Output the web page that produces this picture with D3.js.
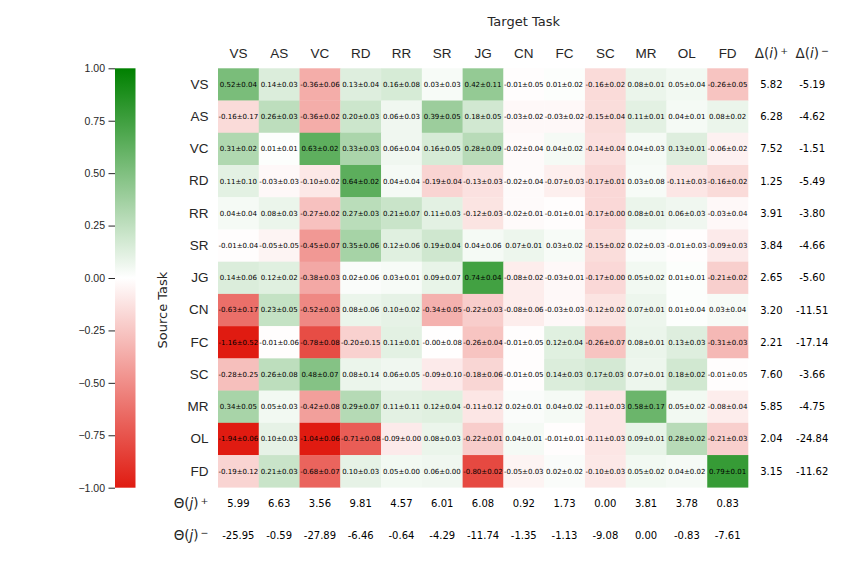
<!DOCTYPE html>
<html>
<head>
<meta charset="utf-8">
<script src="https://cdn.jsdelivr.net/npm/d3@7"></script>
<style>
  body { margin: 0; background: #fff; }
  svg { font-family: "DejaVu Sans", sans-serif; }
  .cell-label { font-size: 7px; fill: #000; }
  .tick-label { font-size: 13.5px; fill: #262626; }
  .side-value { font-size: 10px; fill: #000; }
</style>
</head>
<body>
<svg id="chart"></svg>
<script>
// tasks (rows = source, columns = target)
const colTasks = ['VS', 'AS', 'VC', 'RD', 'RR', 'SR', 'JG', 'CN', 'FC', 'SC', 'MR', 'OL', 'FD'];
const rowTasks = ['VS', 'AS', 'VC', 'RD', 'RR', 'SR', 'JG', 'CN', 'FC', 'SC', 'MR', 'OL', 'FD'];

// mean transfer gain, one row per source task
const meanValues = [
  [0.52, 0.14, -0.36, 0.13, 0.16, 0.03, 0.42, -0.01, 0.01, -0.16, 0.08, 0.05, -0.26],
  [-0.16, 0.26, -0.36, 0.20, 0.06, 0.39, 0.18, -0.03, -0.03, -0.15, 0.11, 0.04, 0.08],
  [0.31, 0.01, 0.63, 0.33, 0.06, 0.16, 0.28, -0.02, 0.04, -0.14, 0.04, 0.13, -0.06],
  [0.11, -0.03, -0.10, 0.64, 0.04, -0.19, -0.13, -0.02, -0.07, -0.17, 0.03, -0.11, -0.16],
  [0.04, 0.08, -0.27, 0.27, 0.21, 0.11, -0.12, -0.02, -0.01, -0.17, 0.08, 0.06, -0.03],
  [-0.01, -0.05, -0.45, 0.35, 0.12, 0.19, 0.04, 0.07, 0.03, -0.15, 0.02, -0.01, -0.09],
  [0.14, 0.12, -0.38, 0.02, 0.03, 0.09, 0.74, -0.08, -0.03, -0.17, 0.05, 0.01, -0.21],
  [-0.63, 0.23, -0.52, 0.08, 0.10, -0.34, -0.22, -0.08, -0.03, -0.12, 0.07, 0.01, 0.03],
  [-1.16, -0.01, -0.78, -0.20, 0.11, -0.004, -0.26, -0.01, 0.12, -0.26, 0.08, 0.13, -0.31],
  [-0.28, 0.26, 0.48, 0.08, 0.06, -0.09, -0.18, -0.01, 0.14, 0.17, 0.07, 0.18, -0.01],
  [0.34, 0.05, -0.42, 0.29, 0.11, 0.12, -0.11, 0.02, 0.04, -0.11, 0.58, 0.05, -0.08],
  [-1.94, 0.10, -1.04, -0.71, -0.09, 0.08, -0.22, 0.04, -0.01, -0.11, 0.09, 0.28, -0.21],
  [-0.19, 0.21, -0.68, 0.10, 0.05, 0.06, -0.80, -0.05, 0.02, -0.10, 0.05, 0.04, 0.79]
];

// standard deviations, same layout
const stdValues = [
  [0.04, 0.03, 0.06, 0.04, 0.08, 0.03, 0.11, 0.05, 0.02, 0.02, 0.01, 0.04, 0.05],
  [0.17, 0.03, 0.02, 0.03, 0.03, 0.05, 0.05, 0.02, 0.02, 0.04, 0.01, 0.01, 0.02],
  [0.02, 0.01, 0.02, 0.03, 0.04, 0.05, 0.09, 0.04, 0.02, 0.04, 0.03, 0.01, 0.02],
  [0.10, 0.03, 0.02, 0.02, 0.04, 0.04, 0.03, 0.04, 0.03, 0.01, 0.08, 0.03, 0.02],
  [0.04, 0.03, 0.02, 0.03, 0.07, 0.03, 0.03, 0.01, 0.01, 0.00, 0.01, 0.03, 0.04],
  [0.04, 0.05, 0.07, 0.06, 0.06, 0.04, 0.06, 0.01, 0.02, 0.02, 0.03, 0.03, 0.03],
  [0.06, 0.02, 0.03, 0.06, 0.01, 0.07, 0.04, 0.02, 0.01, 0.00, 0.02, 0.01, 0.02],
  [0.17, 0.05, 0.03, 0.06, 0.02, 0.05, 0.03, 0.06, 0.03, 0.02, 0.01, 0.04, 0.04],
  [0.52, 0.06, 0.08, 0.15, 0.01, 0.08, 0.04, 0.05, 0.04, 0.07, 0.01, 0.03, 0.03],
  [0.25, 0.08, 0.07, 0.14, 0.05, 0.10, 0.06, 0.05, 0.03, 0.03, 0.01, 0.02, 0.05],
  [0.05, 0.03, 0.08, 0.07, 0.11, 0.04, 0.12, 0.01, 0.02, 0.03, 0.17, 0.02, 0.04],
  [0.06, 0.03, 0.06, 0.08, 0.00, 0.03, 0.01, 0.01, 0.01, 0.03, 0.01, 0.02, 0.03],
  [0.12, 0.03, 0.07, 0.03, 0.00, 0.00, 0.02, 0.03, 0.02, 0.03, 0.02, 0.02, 0.01]
];

// row summaries (per source task)
const deltaPlus = [5.82, 6.28, 7.52, 1.25, 3.91, 3.84, 2.65, 3.20, 2.21, 7.60, 5.85, 2.04, 3.15];
const deltaMinus = [-5.19, -4.62, -1.51, -5.49, -3.80, -4.66, -5.60, -11.51, -17.14, -3.66, -4.75, -24.84, -11.62];

// column summaries (per target task)
const thetaPlus = [5.99, 6.63, 3.56, 9.81, 4.57, 6.01, 6.08, 0.92, 1.73, 0.00, 3.81, 3.78, 0.83];
const thetaMinus = [-25.95, -0.59, -27.89, -6.46, -0.64, -4.29, -11.74, -1.35, -1.13, -9.08, 0.00, -0.83, -7.61];

const colorbarTicks = [-1, -0.75, -0.5, -0.25, 0, 0.25, 0.5, 0.75, 1];

const width = 847, height = 565;
const svg = d3.select('#chart').attr('width', width).attr('height', height);

// 13 task columns + 2 summary columns, 13 task rows + 2 summary rows
const allCols = colTasks.concat(['D+', 'D-']);
const allRows = rowTasks.concat(['T+', 'T-']);
const cellW = 40.77, cellH = 32.23;
const x = d3.scaleBand().domain(allCols).range([218, 218 + cellW * allCols.length]);
const y = d3.scaleBand().domain(allRows).range([68.3, 68.3 + cellH * allRows.length]);

const color = d3.scaleLinear()
  .domain([-1, 0, 1])
  .range(['rgb(224,27,17)', '#ffffff', 'rgb(0,128,0)'])
  .clamp(true);

const fmt = v => v.toFixed(2);

// heatmap cells
const cells = [];
rowTasks.forEach((r, i) => colTasks.forEach((c, j) => {
  cells.push({ row: r, col: c, mean: meanValues[i][j], std: stdValues[i][j] });
}));

const cellG = svg.append('g');
cellG.selectAll('rect')
  .data(cells)
  .join('rect')
  .attr('x', d => x(d.col))
  .attr('y', d => y(d.row))
  .attr('width', x.bandwidth() + 0.3)
  .attr('height', y.bandwidth() + 0.3)
  .attr('fill', d => color(d.mean));

cellG.selectAll('text')
  .data(cells)
  .join('text')
  .attr('class', 'cell-label')
  .attr('x', d => x(d.col) + x.bandwidth() / 2)
  .attr('y', d => y(d.row) + y.bandwidth() / 2)
  .attr('dy', '0.35em')
  .attr('text-anchor', 'middle')
  .text(d => `${fmt(d.mean)}±${fmt(d.std)}`);

// column (target) labels
const xAxis = d3.axisTop(d3.scaleBand().domain(colTasks).range([x(colTasks[0]), x(colTasks[12]) + x.bandwidth()]))
  .tickSize(0).tickPadding(10.5);
svg.append('g')
  .attr('transform', `translate(0,${y.range()[0]})`)
  .call(xAxis)
  .call(g => g.select('.domain').remove())
  .call(g => g.selectAll('text').attr('class', 'tick-label').attr('font-size', null).attr('font-family', null));

// row (source) labels
const yAxis = d3.axisLeft(d3.scaleBand().domain(rowTasks).range([y(rowTasks[0]), y(rowTasks[12]) + y.bandwidth()]))
  .tickSize(0).tickPadding(9.5);
svg.append('g')
  .attr('transform', `translate(${x.range()[0]},0)`)
  .call(yAxis)
  .call(g => g.select('.domain').remove())
  .call(g => g.selectAll('text').attr('class', 'tick-label').attr('font-size', null).attr('font-family', null));

// titles
svg.append('text')
  .attr('x', (x.range()[0] + x.range()[1]) / 2)
  .attr('y', 25.5)
  .attr('text-anchor', 'middle')
  .attr('font-size', 13)
  .attr('fill', '#262626')
  .text('Target Task');

svg.append('text')
  .attr('transform', `translate(167,${(y.range()[0] + y.range()[1]) / 2}) rotate(-90)`)
  .attr('text-anchor', 'middle')
  .attr('font-size', 13)
  .attr('fill', '#262626')
  .text('Source Task');

// math-style labels: Symbol(var)^sup
function mathLabel(sel, sym, v, sup) {
  sel.append('tspan').text(sym + '(');
  sel.append('tspan').attr('font-style', 'italic').text(v);
  sel.append('tspan').text(')');
  sel.append('tspan').attr('font-size', '0.7em').attr('dx', 2).attr('dy', '-0.45em').text(sup);
}

// row summary columns
const deltaCols = [
  { key: 'D+', sup: '+', values: deltaPlus },
  { key: 'D-', sup: '\u2212', values: deltaMinus }
];
deltaCols.forEach(dc => {
  const cx = x(dc.key) + x.bandwidth() / 2 + 3;
  const head = svg.append('text')
    .attr('class', 'tick-label')
    .attr('x', cx)
    .attr('y', y.range()[0] - 10.5)
    .attr('text-anchor', 'middle');
  mathLabel(head, '\u0394', 'i', dc.sup);
  svg.append('g').selectAll('text')
    .data(dc.values)
    .join('text')
    .attr('class', 'side-value')
    .attr('x', cx)
    .attr('y', (d, i) => y(rowTasks[i]) + y.bandwidth() / 2)
    .attr('dy', '0.35em')
    .attr('text-anchor', 'middle')
    .text(d => fmt(d));
});

// column summary rows
const thetaRows = [
  { key: 'T+', sup: '+', values: thetaPlus },
  { key: 'T-', sup: '\u2212', values: thetaMinus }
];
thetaRows.forEach(tr => {
  const cy = y(tr.key) + y.bandwidth() / 2;
  const lab = svg.append('text')
    .attr('class', 'tick-label')
    .attr('x', x.range()[0] - 9.5)
    .attr('y', cy)
    .attr('dy', '0.35em')
    .attr('text-anchor', 'end');
  mathLabel(lab, '\u0398', 'j', tr.sup);
  svg.append('g').selectAll('text')
    .data(tr.values)
    .join('text')
    .attr('class', 'side-value')
    .attr('x', (d, i) => x(colTasks[i]) + x.bandwidth() / 2)
    .attr('y', cy)
    .attr('dy', '0.35em')
    .attr('text-anchor', 'middle')
    .text(d => fmt(d));
});

// colorbar
const cbX = 115, cbW = 20.5;
const cbScale = d3.scaleLinear().domain([-1, 1]).range([487.7, 68.3]);
const grad = svg.append('defs').append('linearGradient')
  .attr('id', 'cbgrad')
  .attr('x1', 0).attr('y1', 1).attr('x2', 0).attr('y2', 0);
grad.selectAll('stop')
  .data(d3.range(0, 1.0001, 0.05))
  .join('stop')
  .attr('offset', d => d)
  .attr('stop-color', d => color(-1 + 2 * d));

svg.append('rect')
  .attr('x', cbX)
  .attr('y', cbScale(1))
  .attr('width', cbW)
  .attr('height', cbScale(-1) - cbScale(1))
  .attr('fill', 'url(#cbgrad)');

svg.append('g')
  .attr('transform', `translate(${cbX},0)`)
  .call(d3.axisLeft(cbScale).tickValues(colorbarTicks).tickFormat(d3.format('.2f')).tickSize(6.5).tickPadding(3.5))
  .call(g => g.select('.domain').remove())
  .call(g => g.selectAll('line').attr('stroke', '#262626').attr('stroke-width', 1))
  .call(g => g.selectAll('text').attr('font-size', 10.5).attr('font-family', null).attr('fill', '#262626'));
</script>
</body>
</html>
